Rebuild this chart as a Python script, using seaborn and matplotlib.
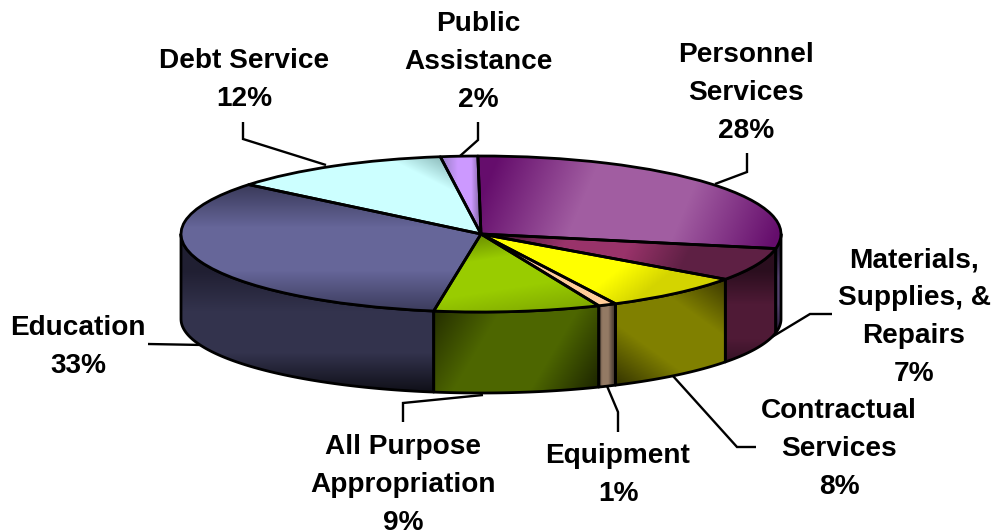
import numpy as np
import matplotlib
matplotlib.use("Agg")
import matplotlib.pyplot as plt
from matplotlib.colors import to_rgb
from matplotlib.patches import Polygon
import seaborn as sns

# Budget shares, clockwise from twelve o'clock
categories = ["Personnel\nServices", "Materials,\nSupplies, &\nRepairs", "Contractual\nServices",
              "Equipment", "All Purpose\nAppropriation", "Education", "Debt Service", "Public\nAssistance"]
shares = [28, 7, 8, 1, 9, 33, 12, 2]

# Slice shading: colours at the start, middle and end of a gradient, and its ends in pixels
top_shading = [
    (("#650d6c", "#a15da1", "#650d6c"), (500, 150), (765, 262)),
    (("#4f1a3c", "#99336a", "#5e2044"), (510, 222), (665, 300)),
    (("#ffff00", "#ffff00", "#d4d400"), (560, 225), (625, 308)),
    (("#ffcc99", "#ffcc99", "#ffcc99"), (500, 240), (600, 310)),
    (("#5f8000", "#99cc00", "#7fa800"), (480, 228), (495, 322)),
    (("#3a3a5a", "#666699", "#3a3a5a"), (400, 185), (400, 312)),
    (("#6f9a9a", "#ccffff", "#ccffff"), (452, 148), (400, 250)),
    (("#a184cf", "#cc99ff", "#5f4c78"), (444, 190), (484, 190)),
]
wall_shading = [
    (("#2c1d3c", "#53406d", "#2c1d3c"), (774, 250), (782, 330)),
    (("#2a0e1e", "#4f1a36", "#2a0e1e"), (750, 270), (750, 372)),
    (("#2f2f00", "#808000", "#332f00"), (630, 398), (722, 270)),
    (("#4d3f35", "#937a64", "#4d3f35"), (597, 340), (613, 340)),
    (("#1f2600", "#4d6600", "#161c00"), (432, 298), (600, 398)),
    (("#201f32", "#33334d", "#0e0e16"), (300, 270), (300, 393)),
]

# Label centres and leader polylines, in pixels
label_centres = [(746, 93), (914, 317), (839, 449), (618, 475), (403, 485), (78, 347), (244, 80), (478, 62)]
leaders = [
    [(747, 153), (747, 172), (715, 184)],
    [(832, 314), (810, 314), (767, 340)],
    [(756, 447), (737, 447), (673, 376)],
    [(618, 432), (618, 412), (607, 386)],
    [(403, 422), (403, 403), (483, 395)],
    [(148, 344), (203, 345)],
    [(243, 122), (243, 139), (326, 165)],
    [(478, 122), (478, 140), (460, 156)],
]

WIDTH, HEIGHT = 994, 531
CX, CY, RX, RY = 481, 234, 300, 78
BOTTOM_CY, BOTTOM_RY = 319, 74
EDGE = 2.0

sns.set_theme(style="white")
plt.rcParams["font.family"] = ["Liberation Sans", "DejaVu Sans"]


def to_data(px, py):
    return (np.asarray(px, float) - CX) / RX, (CY - np.asarray(py, float)) / RY


def view_angle(theta):
    """Nudge a pie angle (degrees) for the camera's perspective."""
    s = np.sin(np.radians(theta))
    return theta + s * s * (1.2 - 0.6 * s)


def gradient_image(colours, start, end):
    """Dark-light-dark linear gradient over the whole canvas, with a flat middle."""
    yy, xx = np.mgrid[0:HEIGHT, 0:WIDTH]
    d = np.array(end, float) - np.array(start, float)
    u = np.clip(((xx - start[0]) * d[0] + (yy - start[1]) * d[1]) / (d @ d), 0, 1)
    c = np.array([to_rgb(v) for v in colours])
    return np.dstack([np.interp(u, [0, 0.33, 0.67, 1], [c[0, i], c[1, i], c[1, i], c[2, i]])
                      for i in range(3)])


fig = plt.figure(figsize=(WIDTH / 100, HEIGHT / 100), dpi=100)
ax = fig.add_axes([0, 0, 1, 1])
x0, y0 = to_data(0, HEIGHT)
x1, y1 = to_data(WIDTH, 0)
extent = (float(x0), float(x1), float(y0), float(y1))

# Leader lines sit behind the pie
for path in leaders:
    xs, ys = to_data(*zip(*path))
    ax.plot(xs, ys, color="black", lw=1.7, zorder=1, solid_capstyle="butt", solid_joinstyle="miter")

wedges, _ = ax.pie(shares, startangle=90, counterclock=False, radius=1, center=(0, 0),
                   wedgeprops=dict(facecolor="none", edgecolor="black", linewidth=EDGE, zorder=6))
for w in wedges:
    w.set_theta1(view_angle(w.theta1))
    w.set_theta2(view_angle(w.theta2))
    w.set_joinstyle("round")

# Rim: the part of each slice on the front half of the pie
ends = 90 - np.cumsum([0] + shares) * 3.6
wall_index = 0
for i in range(len(shares)):
    hi = view_angle(ends[i])
    lo = view_angle(ends[i + 1])
    hi_c, lo_c = min(hi, 0), max(lo, -180)
    if hi_c <= lo_c:
        continue
    t = np.radians(np.linspace(hi_c, lo_c, 90))
    top = np.column_stack([np.cos(t), np.sin(t)])
    bx, by = CX + RX * np.cos(t), BOTTOM_CY - BOTTOM_RY * np.sin(t)
    bottom = np.column_stack(to_data(bx, by))[::-1]
    rim = Polygon(np.vstack([top, bottom]), closed=True, facecolor="none",
                  edgecolor="black", linewidth=EDGE, zorder=4, joinstyle="round")
    ax.add_patch(rim)
    colours, a, b = wall_shading[wall_index]
    im = ax.imshow(gradient_image(colours, a, b), extent=extent, aspect="auto", origin="upper",
                   zorder=3, interpolation="nearest")
    im.set_clip_path(rim)
    wall_index += 1

# Top faces
for w, (colours, a, b) in zip(wedges, top_shading):
    im = ax.imshow(gradient_image(colours, a, b), extent=extent, aspect="auto", origin="upper",
                   zorder=5, interpolation="nearest")
    im.set_clip_path(w)

# Category and share labels
for name, share, (px, py) in zip(categories, shares, label_centres):
    tx, ty = to_data(px, py)
    ax.text(tx, ty, f"{name}\n{share}%", ha="center", va="center", multialignment="center",
            fontsize=20.2, fontweight="bold", color="black", linespacing=1.6, zorder=8)

ax.set_aspect("auto")
ax.set_xlim(extent[0], extent[1])
ax.set_ylim(extent[2], extent[3])
ax.axis("off")
fig.savefig("out.png", dpi=100, facecolor="white")
